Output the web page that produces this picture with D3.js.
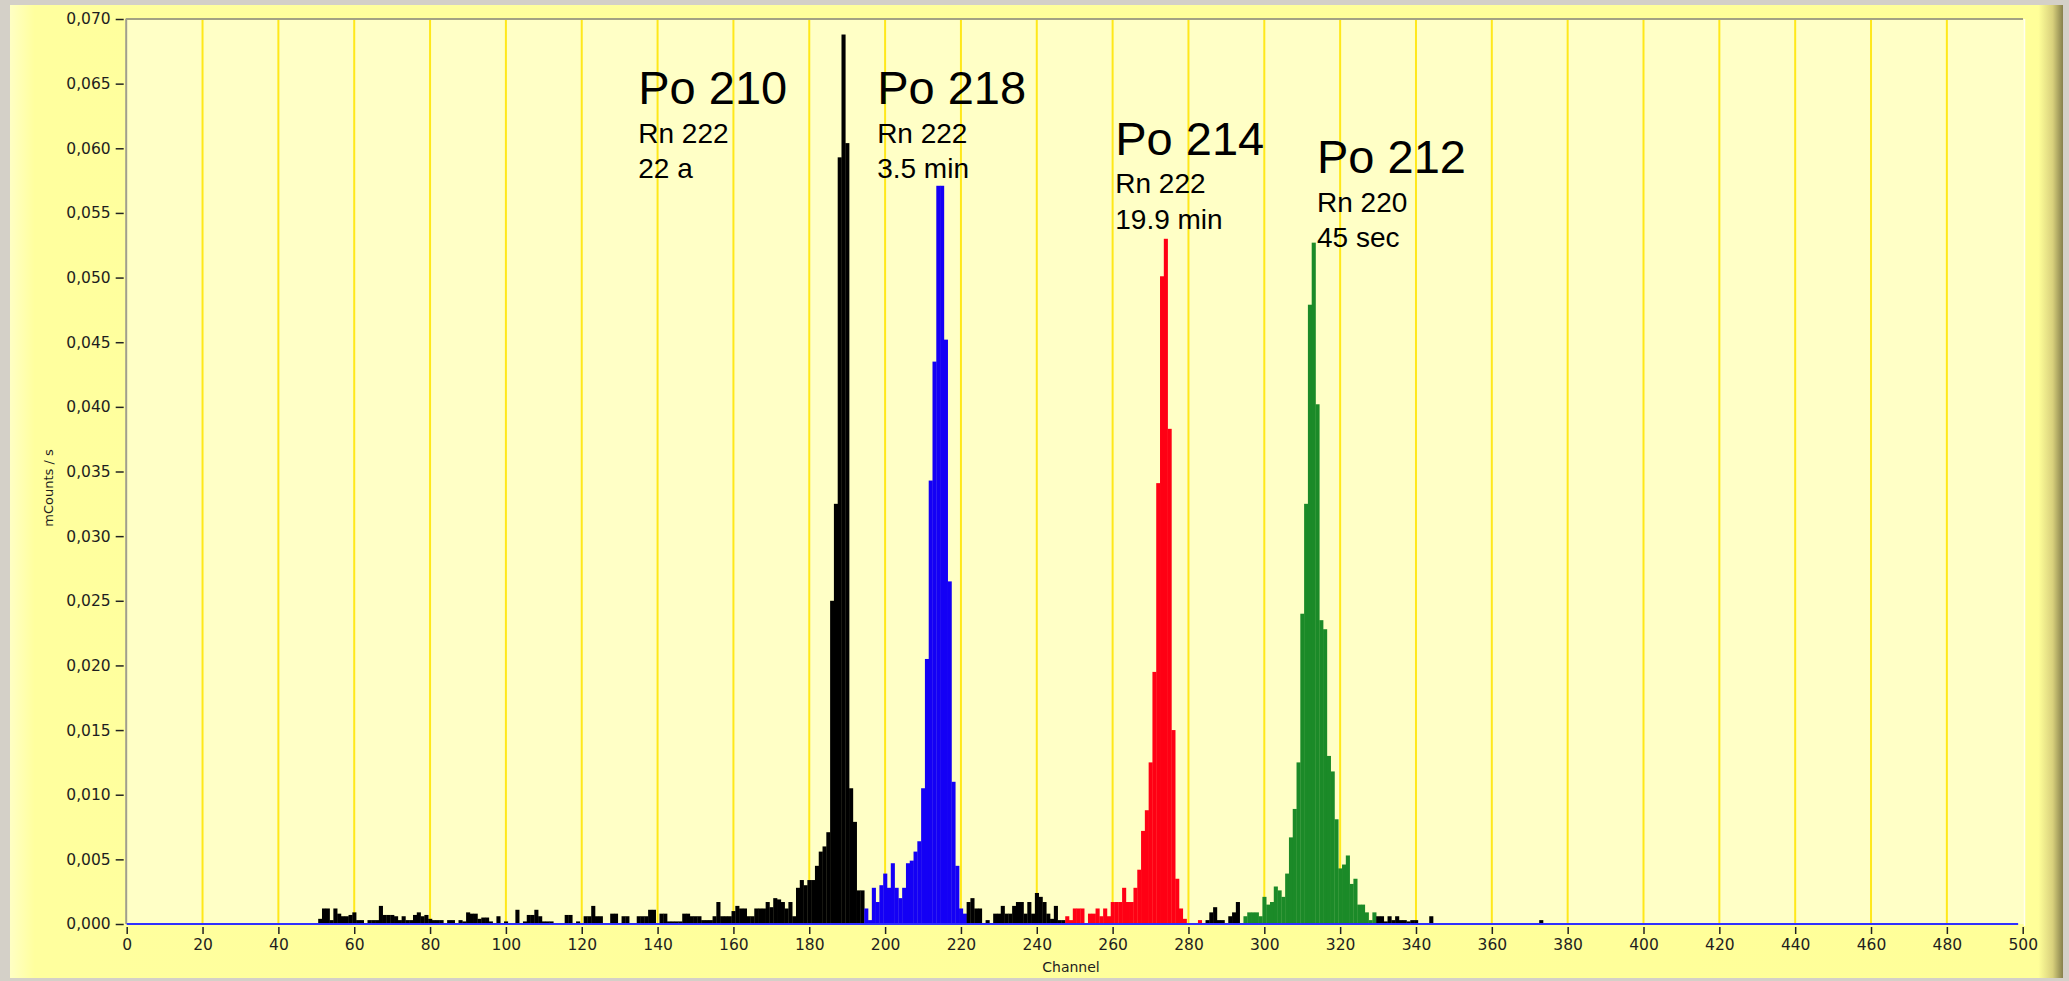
<!DOCTYPE html>
<html>
<head>
<meta charset="utf-8">
<script src="https://cdn.jsdelivr.net/npm/d3@7"></script>
<style>
body { margin: 0; background: #d4d0c8; }
</style>
</head>
<body>
<div id="spectrum"></div>
<script>
// counts per channel (mCounts / s), first value is channel 50
var firstChannel = 50;
var counts = [
	0, 0.0004, 0.0012, 0.0012, 0.0003, 0.0012, 0.0008, 0.0006, 0.0006, 0.0007,
	0.0009, 0.0003, 0.0003, 0, 0.0003, 0.0003, 0.0003, 0.0014, 0.0007, 0.0007,
	0.0007, 0.0006, 0.0003, 0.0006, 0.0003, 0.0003, 0.0007, 0.0009, 0.0006, 0.0007,
	0.0004, 0.0003, 0.0003, 0.0003, 0, 0.0003, 0.0003, 0, 0.0003, 0.0002,
	0.0009, 0.0008, 0.0008, 0.0004, 0.0005, 0.0005, 0.0002, 0, 0.0006, 0,
	0.0002, 0, 0, 0.0011, 0, 0.0002, 0.0007, 0.0007, 0.0011, 0.0006,
	0.0002, 0.0002, 0.0002, 0, 0, 0, 0.0007, 0.0007, 0, 0.0002,
	0, 0.0006, 0.0006, 0.0014, 0.0006, 0.0006, 0, 0, 0.0008, 0.0008,
	0, 0.0006, 0.0006, 0, 0, 0.0006, 0.0006, 0.0006, 0.0011, 0.0011,
	0, 0.0008, 0.0008, 0.0002, 0.0002, 0.0002, 0.0002, 0.0008, 0.0008, 0.0006,
	0.0006, 0.0006, 0.0003, 0.0003, 0.0003, 0.0006, 0.0017, 0.0006, 0.0006, 0.0006,
	0.0010, 0.0014, 0.0012, 0.0012, 0.0006, 0.0006, 0.0012, 0.0012, 0.0012, 0.0017,
	0.0013, 0.0020, 0.0019, 0.0017, 0.0012, 0.0017, 0.0006, 0.0028, 0.0034, 0.0030,
	0.0034, 0.0034, 0.0045, 0.0056, 0.0060, 0.0071, 0.0250, 0.0325, 0.0593, 0.0688,
	0.0604, 0.0105, 0.0079, 0.0026, 0.0026, 0.0012, 0.0003, 0.0028, 0.0017, 0.0030,
	0.0039, 0.0028, 0.0047, 0.0028, 0.0020, 0.0028, 0.0047, 0.0049, 0.0056, 0.0064,
	0.0105, 0.0205, 0.0343, 0.0435, 0.0571, 0.0571, 0.0452, 0.0265, 0.0110, 0.0045,
	0.0012, 0.0008, 0.0017, 0.0020, 0.0012, 0.0012, 0, 0.0003, 0, 0.0008,
	0.0008, 0.0014, 0.0008, 0.0008, 0.0014, 0.0017, 0.0017, 0.0008, 0.0017, 0.0008,
	0.0024, 0.0021, 0.0017, 0.0008, 0.0004, 0.0014, 0.0003, 0.0003, 0.0006, 0.0003,
	0.0012, 0.0012, 0.0012, 0, 0.0008, 0.0008, 0.0012, 0.0006, 0.0012, 0.0006,
	0.0017, 0.0017, 0.0017, 0.0028, 0.0017, 0.0017, 0.0028, 0.0042, 0.0072, 0.0088,
	0.0125, 0.0195, 0.0341, 0.0501, 0.0530, 0.0383, 0.0150, 0.0035, 0.0012, 0.0004,
	0, 0, 0, 0.0003, 0, 0.0003, 0.0009, 0.0013, 0.0003, 0.0003,
	0, 0.0006, 0.0009, 0.0017, 0, 0.0006, 0.0009, 0.0009, 0.0009, 0.0006,
	0.0021, 0.0015, 0.0017, 0.0029, 0.0026, 0.0021, 0.0039, 0.0067, 0.0089, 0.0125,
	0.0240, 0.0325, 0.0479, 0.0527, 0.0402, 0.0235, 0.0228, 0.0130, 0.0118, 0.0081,
	0.0043, 0.0046, 0.0053, 0.0031, 0.0035, 0.0015, 0.0015, 0.0009, 0.0003, 0.0009,
	0.0006, 0.0006, 0.0002, 0.0006, 0.0003, 0.0006, 0.0003, 0.0003, 0.0002, 0.0003,
	0.0003, 0, 0, 0, 0.0006, 0, 0, 0, 0, 0,
	0, 0, 0, 0, 0, 0, 0, 0, 0, 0,
	0, 0, 0, 0, 0, 0, 0, 0, 0, 0,
	0, 0, 0, 0.0003
];

// regions of interest (channel ranges shown in colour)
var roiNames = ['Po 218', 'Po 214', 'Po 212'];
var roiFrom = [195, 248, 295];
var roiTo = [221, 283, 329];

// peak annotations
var isotopes = ['Po 210', 'Po 218', 'Po 214', 'Po 212'];
var parents = ['Rn 222', 'Rn 222', 'Rn 222', 'Rn 220'];
var halfLives = ['22 a', '3.5 min', '19.9 min', '45 sec'];
var labelChannels = [134.9, 197.9, 260.7, 313.9];
var labelValues = [0.0634, 0.0634, 0.0595, 0.0581];

var xTicks = [0, 20, 40, 60, 80, 100, 120, 140, 160, 180, 200, 220, 240, 260, 280,
	300, 320, 340, 360, 380, 400, 420, 440, 460, 480, 500];
var yTicks = [0, 0.005, 0.010, 0.015, 0.020, 0.025, 0.030, 0.035, 0.040,
	0.045, 0.050, 0.055, 0.060, 0.065, 0.070];

var width = 2069;
var height = 981;
var plotLeft = 126.7;
var plotRight = 2022.7;
var plotTop = 19;
var plotBottom = 924;

var roiColors = ['#1400f5', '#ff0014', '#1b8a28'];

var svg = d3.select('#spectrum')
	.append('svg')
	.attr('width', width)
	.attr('height', height)
	.style('display', 'block');

var defs = svg.append('defs');
var panelGrad = defs.append('linearGradient')
	.attr('id', 'panelGrad')
	.attr('x1', 0).attr('x2', 1).attr('y1', 0).attr('y2', 0);
panelGrad.append('stop').attr('offset', 0).attr('stop-color', '#ffffc4');
panelGrad.append('stop').attr('offset', 0.012).attr('stop-color', '#ffff9e');
panelGrad.append('stop').attr('offset', 0.988).attr('stop-color', '#ffff99');
panelGrad.append('stop').attr('offset', 0.995).attr('stop-color', '#d8d07c');
panelGrad.append('stop').attr('offset', 1).attr('stop-color', '#86804c');

// panel
svg.append('rect')
	.attr('x', 10).attr('y', 5)
	.attr('width', 2053).attr('height', 973)
	.attr('fill', 'url(#panelGrad)');

// plot area
svg.append('rect')
	.attr('x', plotLeft).attr('y', plotTop)
	.attr('width', 2025 - plotLeft).attr('height', plotBottom - plotTop)
	.attr('fill', '#ffffc6');

svg.append('line')
	.attr('x1', 2024.5).attr('x2', 2024.5)
	.attr('y1', plotTop).attr('y2', plotBottom + 2)
	.attr('stroke', '#fffff0').attr('stroke-width', 1.5);

var x = d3.scaleLinear().domain([0, 500]).range([plotLeft, plotRight]);
var y = d3.scaleLinear().domain([0, 0.07]).range([plotBottom, plotTop]);

// vertical grid
svg.append('g')
	.selectAll('line')
	.data(xTicks.slice(1, -1))
	.join('line')
	.attr('x1', d => x(d)).attr('x2', d => x(d))
	.attr('y1', plotTop).attr('y2', plotBottom)
	.attr('stroke', '#ffe81a')
	.attr('stroke-width', 2);

// frame
svg.append('line')
	.attr('x1', plotLeft - 1).attr('x2', 2023)
	.attr('y1', plotTop).attr('y2', plotTop)
	.attr('stroke', '#a3a283').attr('stroke-width', 2);
svg.append('line')
	.attr('x1', plotLeft - 0.5).attr('x2', plotLeft - 0.5)
	.attr('y1', plotTop).attr('y2', plotBottom)
	.attr('stroke', '#a09e8e').attr('stroke-width', 2);

function roiColor(ch) {
	for (var i = 0; i < roiNames.length; i++) {
		if (ch >= roiFrom[i] && ch <= roiTo[i]) return roiColors[i];
	}
	return '#000000';
}

var bins = counts.map(function (v, i) {
	return { channel: firstChannel + i, value: v };
}).filter(d => d.value > 0);

svg.append('g')
	.selectAll('rect')
	.data(bins)
	.join('rect')
	.attr('x', d => x(d.channel - 0.5))
	.attr('width', d => x(d.channel + 0.5) - x(d.channel - 0.5) + 0.3)
	.attr('y', d => y(d.value))
	.attr('height', d => y(0) - y(d.value))
	.attr('fill', d => roiColor(d.channel));

// zero line of the plot
svg.append('line')
	.attr('x1', x(0)).attr('x2', x(498.8))
	.attr('y1', y(0)).attr('y2', y(0))
	.attr('stroke', '#3030ff').attr('stroke-width', 2);

var locale = d3.formatLocale({ decimal: ',', thousands: '.', grouping: [3], currency: ['', ''] });
var yFormat = locale.format('.3f');

var yAxis = svg.append('g')
	.attr('transform', 'translate(' + (plotLeft - 3) + ',0)')
	.call(d3.axisLeft(y).tickValues(yTicks).tickFormat(yFormat).tickSize(8).tickPadding(5));

var xAxis = svg.append('g')
	.attr('transform', 'translate(0,' + (plotBottom + 3) + ')')
	.call(d3.axisBottom(x).tickValues(xTicks).tickSize(7).tickPadding(5));

[yAxis, xAxis].forEach(function (g) {
	g.select('.domain').remove();
	g.selectAll('.tick line').attr('stroke', '#222').attr('stroke-width', 1.5);
	g.selectAll('.tick text')
		.attr('fill', '#1e1e1e')
		.style('font-family', 'DejaVu Sans, Verdana, sans-serif')
		.style('font-size', '15.5px');
});

svg.append('text')
	.attr('transform', 'translate(49,488) rotate(-90)')
	.attr('text-anchor', 'middle')
	.attr('dominant-baseline', 'middle')
	.style('font-family', 'DejaVu Sans, Verdana, sans-serif')
	.style('font-size', '13px')
	.attr('fill', '#1e1e1e')
	.text('mCounts / s');

svg.append('text')
	.attr('x', 1071).attr('y', 972)
	.attr('text-anchor', 'middle')
	.style('font-family', 'DejaVu Sans, Verdana, sans-serif')
	.style('font-size', '14px')
	.attr('fill', '#1e1e1e')
	.text('Channel');

// peak labels
var labels = svg.append('g')
	.selectAll('g')
	.data(isotopes)
	.join('g')
	.attr('transform', (d, i) => 'translate(' + x(labelChannels[i]) + ',' + y(labelValues[i]) + ')')
	.style('font-family', 'Liberation Sans, Arial, sans-serif')
	.attr('fill', '#000');

labels.append('text')
	.style('font-size', '47px')
	.text(d => d);
labels.append('text')
	.attr('y', 38.7)
	.style('font-size', '28px')
	.text((d, i) => parents[i]);
labels.append('text')
	.attr('y', 74)
	.style('font-size', '28px')
	.text((d, i) => halfLives[i]);
</script>
</body>
</html>
